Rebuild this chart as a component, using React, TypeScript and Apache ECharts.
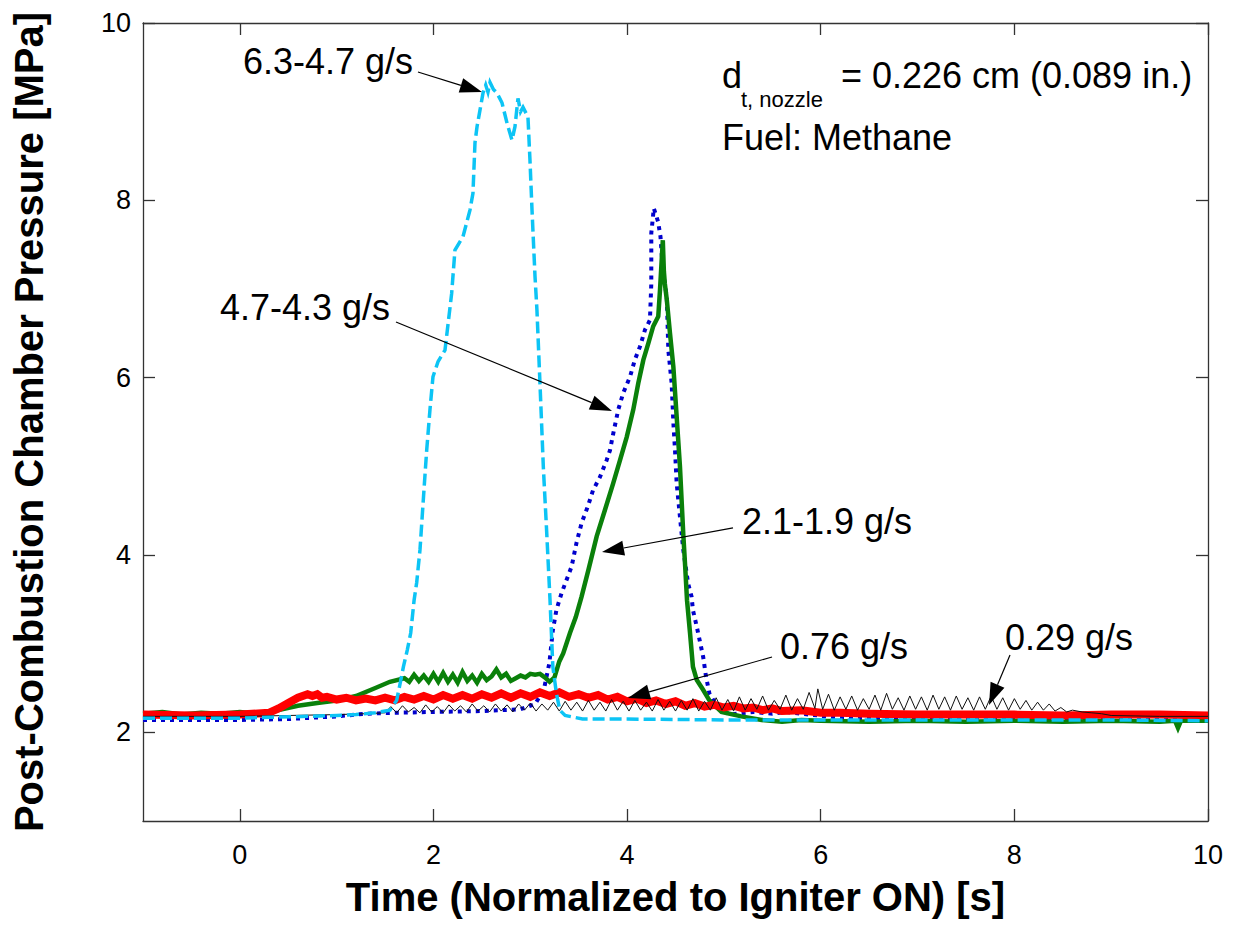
import React, { useEffect, useRef } from "react";
import * as echarts from "echarts";

const FONT = '"Liberation Sans", Arial, Helvetica, sans-serif';

const xTicks = [0, 2, 4, 6, 8, 10];
const yTicks = [2, 4, 6, 8, 10];

const xTitle = "Time (Normalized to Igniter ON) [s]";
const yTitle = "Post-Combustion Chamber Pressure [MPa]";

// 6.3-4.7 g/s (cyan, dashed)
const flow63: number[][] = [
  [-1, 2.16], [-0.5, 2.16], [0, 2.16], [0.3, 2.17], [0.7, 2.18], [1.0, 2.19], [1.2, 2.2], [1.4, 2.22],
  [1.55, 2.25], [1.62, 2.36], [1.65, 2.52], [1.69, 2.74], [1.73, 2.93], [1.765, 3.12], [1.8, 3.49],
  [1.827, 3.69], [1.861, 4.06], [1.895, 4.62], [1.93, 5.18], [1.964, 5.64], [1.995, 6.01], [2.047, 6.18],
  [2.119, 6.31], [2.188, 6.95], [2.222, 7.44], [2.305, 7.59], [2.377, 7.89], [2.408, 8.08], [2.429, 8.65],
  [2.45, 8.83], [2.481, 9.02], [2.512, 9.21], [2.54, 9.3], [2.563, 9.22], [2.584, 9.33], [2.62, 9.25],
  [2.656, 9.21], [2.708, 9.1], [2.76, 8.87], [2.811, 8.68], [2.842, 8.83], [2.873, 9.15], [2.9, 9.0],
  [2.925, 9.05], [2.976, 8.94], [2.997, 8.45], [3.018, 7.89], [3.049, 7.14], [3.069, 6.76], [3.1, 5.94],
  [3.135, 4.99], [3.17, 4.25], [3.204, 3.49], [3.233, 2.74], [3.27, 2.44], [3.305, 2.25], [3.36, 2.19],
  [3.54, 2.15], [4, 2.15], [5, 2.14], [6, 2.14], [7, 2.14], [8, 2.14], [9, 2.14], [10, 2.13],
];

// 4.7-4.3 g/s (blue, dotted)
const flow47: number[][] = [
  [-1, 2.14], [-0.5, 2.14], [0, 2.14], [0.5, 2.15], [1.0, 2.18], [1.3, 2.21], [1.6, 2.22], [2.0, 2.23],
  [2.5, 2.24], [2.9, 2.26], [3.05, 2.32], [3.14, 2.48], [3.197, 2.78], [3.233, 3.15], [3.27, 3.38],
  [3.323, 3.57], [3.427, 3.87], [3.478, 4.14], [3.53, 4.36], [3.595, 4.55], [3.648, 4.73], [3.72, 4.88],
  [3.789, 5.07], [3.823, 5.18], [3.857, 5.37], [3.909, 5.64], [3.961, 5.83], [4.03, 6.01], [4.08, 6.2],
  [4.133, 6.35], [4.185, 6.54], [4.236, 6.65], [4.25, 7.06], [4.25, 7.63], [4.276, 7.91], [4.32, 7.76],
  [4.345, 7.59], [4.369, 7.21], [4.39, 7.06], [4.41, 6.91], [4.426, 6.31], [4.46, 5.94], [4.478, 5.49],
  [4.495, 5.18], [4.512, 4.81], [4.546, 4.43], [4.58, 4.06], [4.63, 3.68], [4.666, 3.53], [4.68, 3.38],
  [4.72, 3.19], [4.757, 3.0], [4.786, 2.85], [4.815, 2.63], [4.85, 2.44], [4.93, 2.29], [5.06, 2.2],
  [5.3, 2.23], [5.5, 2.21], [5.64, 2.23], [5.89, 2.2], [6.23, 2.16], [7, 2.15], [8, 2.15], [9, 2.15], [10, 2.15],
];

// 2.1-1.9 g/s (green, solid)
const flow21: number[][] = [
  [-1, 2.21], [-0.8, 2.23], [-0.6, 2.2], [-0.4, 2.22], [-0.2, 2.21], [0, 2.23], [0.2, 2.21], [0.4, 2.25],
  [0.6, 2.3], [0.8, 2.33], [1.0, 2.36], [1.2, 2.41], [1.4, 2.5], [1.55, 2.57], [1.7, 2.61],
  [1.75, 2.57], [1.8, 2.65], [1.85, 2.58], [1.9, 2.64], [1.95, 2.57], [2.0, 2.66], [2.05, 2.57],
  [2.1, 2.67], [2.15, 2.57], [2.2, 2.65], [2.25, 2.56], [2.3, 2.68], [2.35, 2.58], [2.4, 2.64],
  [2.45, 2.56], [2.5, 2.66], [2.55, 2.59], [2.6, 2.63], [2.65, 2.71], [2.7, 2.62], [2.75, 2.66],
  [2.8, 2.58], [2.85, 2.61], [2.9, 2.64], [2.95, 2.62], [3.0, 2.66], [3.05, 2.65], [3.1, 2.66],
  [3.15, 2.62], [3.2, 2.57], [3.25, 2.62], [3.3, 2.8], [3.34, 2.89], [3.41, 3.12], [3.47, 3.3],
  [3.53, 3.53], [3.6, 3.83], [3.686, 4.21], [3.772, 4.51], [3.857, 4.81], [3.927, 5.07], [3.996, 5.33],
  [4.064, 5.64], [4.116, 5.94], [4.168, 6.2], [4.22, 6.39], [4.27, 6.58], [4.322, 6.69], [4.34, 6.99],
  [4.369, 7.55], [4.38, 7.2], [4.39, 7.06], [4.41, 6.88], [4.443, 6.5], [4.478, 6.12], [4.512, 5.56],
  [4.546, 5.0], [4.58, 4.24], [4.6, 3.87], [4.619, 3.49], [4.65, 3.12], [4.68, 2.74], [4.72, 2.59],
  [4.785, 2.48], [4.85, 2.36], [4.975, 2.23], [5.18, 2.18], [5.39, 2.14], [5.6, 2.12], [5.8, 2.14],
  [6, 2.13], [6.5, 2.12], [7, 2.13], [7.5, 2.12], [8, 2.13], [8.5, 2.12], [9, 2.13], [9.5, 2.12],
  [9.66, 2.13], [9.69, 2.05], [9.72, 2.13], [10, 2.13],
];

// 0.76 g/s (red, solid)
const flow076: number[][] = [
  [-1, 2.2], [-0.5, 2.19], [0, 2.2], [0.3, 2.22], [0.4, 2.27], [0.5, 2.33], [0.6, 2.39], [0.7, 2.43],
  [0.75, 2.41], [0.8, 2.43], [0.85, 2.39], [0.9, 2.4], [1.0, 2.37], [1.1, 2.39], [1.2, 2.36], [1.3, 2.38],
  [1.4, 2.36], [1.5, 2.39], [1.6, 2.36], [1.7, 2.4], [1.8, 2.37], [1.9, 2.41], [2.0, 2.37], [2.1, 2.42],
  [2.2, 2.38], [2.3, 2.42], [2.4, 2.38], [2.5, 2.43], [2.6, 2.39], [2.7, 2.44], [2.8, 2.39], [2.9, 2.44],
  [3.0, 2.4], [3.1, 2.45], [3.2, 2.41], [3.3, 2.45], [3.4, 2.4], [3.5, 2.43], [3.6, 2.39], [3.7, 2.42],
  [3.8, 2.37], [3.9, 2.4], [4.0, 2.35], [4.1, 2.38], [4.2, 2.33], [4.3, 2.36], [4.4, 2.32], [4.5, 2.35],
  [4.6, 2.3], [4.7, 2.33], [4.8, 2.29], [4.9, 2.31], [5.0, 2.28], [5.1, 2.3], [5.2, 2.27], [5.3, 2.28],
  [5.4, 2.25], [5.5, 2.27], [5.6, 2.24], [5.8, 2.25], [6.0, 2.22], [6.2, 2.22], [6.5, 2.21], [7, 2.2],
  [7.5, 2.2], [8, 2.2], [8.5, 2.19], [9, 2.2], [9.5, 2.2], [10, 2.19],
];

// 0.29 g/s (black, thin)
const flow029: number[][] = [
  [-1, 2.18], [0, 2.18], [0.5, 2.19], [1.0, 2.2], [1.3, 2.21], [1.5, 2.22],
  [1.56, 2.29], [1.62, 2.22], [1.68, 2.3], [1.74, 2.23], [1.8, 2.28], [1.86, 2.22], [1.92, 2.31],
  [1.98, 2.23], [2.04, 2.29], [2.1, 2.22], [2.16, 2.31], [2.22, 2.24], [2.28, 2.3], [2.34, 2.23],
  [2.4, 2.32], [2.46, 2.24], [2.52, 2.3], [2.58, 2.23], [2.64, 2.32], [2.7, 2.24], [2.76, 2.31],
  [2.82, 2.23], [2.88, 2.32], [2.94, 2.25], [3.0, 2.33], [3.06, 2.24], [3.12, 2.32], [3.18, 2.25],
  [3.24, 2.34], [3.3, 2.24], [3.36, 2.35], [3.42, 2.25], [3.48, 2.34], [3.54, 2.24], [3.6, 2.36],
  [3.66, 2.25], [3.72, 2.34], [3.78, 2.24], [3.84, 2.37], [3.9, 2.25], [3.96, 2.35], [4.02, 2.24],
  [4.08, 2.36], [4.14, 2.25], [4.2, 2.34], [4.26, 2.24], [4.32, 2.37], [4.38, 2.25], [4.44, 2.35],
  [4.5, 2.24], [4.56, 2.36], [4.62, 2.25], [4.68, 2.38], [4.74, 2.24], [4.8, 2.35], [4.86, 2.25],
  [4.92, 2.39], [4.98, 2.25], [5.04, 2.37], [5.1, 2.24], [5.16, 2.4], [5.22, 2.25], [5.28, 2.38],
  [5.34, 2.26], [5.4, 2.41], [5.46, 2.25], [5.52, 2.36], [5.58, 2.26], [5.64, 2.42], [5.7, 2.25],
  [5.76, 2.38], [5.82, 2.26], [5.88, 2.45], [5.94, 2.27], [5.97, 2.49], [6.02, 2.26], [6.08, 2.43],
  [6.14, 2.25], [6.2, 2.4], [6.26, 2.26], [6.32, 2.41], [6.38, 2.25], [6.44, 2.38], [6.5, 2.26],
  [6.56, 2.42], [6.62, 2.25], [6.68, 2.44], [6.74, 2.26], [6.8, 2.39], [6.86, 2.25], [6.92, 2.41],
  [6.98, 2.26], [7.04, 2.4], [7.1, 2.25], [7.16, 2.42], [7.22, 2.26], [7.28, 2.4], [7.34, 2.25],
  [7.4, 2.41], [7.46, 2.26], [7.52, 2.39], [7.58, 2.25], [7.64, 2.4], [7.7, 2.26], [7.76, 2.41],
  [7.82, 2.26], [7.88, 2.39], [7.94, 2.25], [8.0, 2.38], [8.06, 2.26], [8.12, 2.36], [8.18, 2.25],
  [8.24, 2.34], [8.3, 2.25], [8.36, 2.32], [8.42, 2.24], [8.48, 2.28], [8.54, 2.23], [8.6, 2.25],
  [8.7, 2.23], [8.8, 2.22], [8.9, 2.21], [9.0, 2.19], [9.5, 2.18], [10, 2.18],
];

// Annotations: label text, label anchor (left, middle) and arrow [from, to] in data units
const labelTexts = ["6.3-4.7 g/s", "4.7-4.3 g/s", "2.1-1.9 g/s", "0.76 g/s", "0.29 g/s"];
const labelAnchors: number[][] = [[0.033, 9.566], [-0.205, 6.786], [5.187, 4.378], [5.579, 2.963], [7.903, 3.064]];
const arrowFrom: number[][] = [[1.84, 9.447], [1.613, 6.628], [5.094, 4.305], [5.497, 2.85], [7.955, 2.872]];
const arrowTo: number[][] = [[2.501, 9.222], [3.844, 5.624], [3.741, 4.034], [4.009, 2.388], [7.738, 2.308]];

const noteMain = "d";
const noteSub = "t, nozzle";
const noteRest = "= 0.226 cm (0.089 in.)";
const noteFuel = "Fuel: Methane";
const noteAnchors: number[][] = [[4.98, 9.408], [5.176, 9.132], [6.209, 9.408], [4.98, 8.714]];

export default function App() {
  const ref = useRef<HTMLDivElement>(null);

  useEffect(() => {
    document.body.style.margin = "0";
    const chart = echarts.init(ref.current as HTMLDivElement, null, { renderer: "svg" });
    const axisColor = "#333";
    const mkX = (pos: string, main: boolean) => ({
      type: "value",
      min: -1,
      max: 10,
      position: pos,
      name: main ? xTitle : "",
      nameLocation: "middle",
      nameGap: 56,
      nameTextStyle: { fontSize: 40, fontWeight: "bold", color: "#000", fontFamily: FONT },
      axisLine: { onZero: false, lineStyle: { color: axisColor, width: 1.3 } },
      axisTick: { inside: true, length: 12, customValues: xTicks, lineStyle: { color: axisColor, width: 1.3 } },
      axisLabel: { show: main, customValues: xTicks, fontSize: 27, color: "#000", fontFamily: FONT, margin: 20 },
      splitLine: { show: false },
    });
    const mkY = (pos: string, main: boolean) => ({
      type: "value",
      min: 1,
      max: 10,
      position: pos,
      name: main ? yTitle : "",
      nameLocation: "middle",
      nameGap: 94,
      nameRotate: 90,
      nameTextStyle: { fontSize: 40, fontWeight: "bold", color: "#000", fontFamily: FONT },
      axisLine: { onZero: false, lineStyle: { color: axisColor, width: 1.3 } },
      axisTick: { inside: true, length: 12, customValues: yTicks, lineStyle: { color: axisColor, width: 1.3 } },
      axisLabel: { show: main, customValues: yTicks, fontSize: 27, color: "#000", fontFamily: FONT, margin: 12 },
      splitLine: { show: false },
    });
    const line = (data: number[][], color: string, width: number, type: any, z: number) => ({
      type: "line",
      data,
      showSymbol: false,
      symbol: "none",
      z,
      lineStyle: { color, width, type, cap: "butt", join: "miter" },
    });
    chart.setOption({
      animation: false,
      backgroundColor: "#fff",
      textStyle: { fontFamily: FONT },
      grid: { left: 143, right: 28, top: 23, bottom: 105, containLabel: false },
      xAxis: [mkX("bottom", true), mkX("top", false)],
      yAxis: [mkY("left", true), mkY("right", false)],
      series: [
        line(flow47, "#0000CD", 4, [4, 5], 2),
        line(flow21, "#0A800A", 4.5, "solid", 3),
        line(flow076, "#FF0000", 8, "solid", 4),
        line(flow029, "#111111", 1, "solid", 5),
        line(flow63, "#0CC4F5", 3.5, [12, 5], 6),
      ],
    });

    const toPx = (p: number[]) => chart.convertToPixel({ seriesIndex: 0 }, p) as number[];
    const graphics: any[] = [];
    const textEl = (text: string, p: number[], size: number) => {
      const q = toPx(p);
      return {
        type: "text",
        x: q[0],
        y: q[1],
        z: 100,
        style: { text, fontSize: size, fontFamily: FONT, fill: "#000", align: "left", verticalAlign: "middle" },
      };
    };
    labelTexts.forEach((t, i) => {
      graphics.push(textEl(t, labelAnchors[i], 36));
      const a = toPx(arrowFrom[i]);
      const b = toPx(arrowTo[i]);
      const dx = b[0] - a[0];
      const dy = b[1] - a[1];
      const len = Math.sqrt(dx * dx + dy * dy);
      const ux = dx / len;
      const uy = dy / len;
      const L = 22;
      const W = 7.5;
      const bx = b[0] - ux * L;
      const by = b[1] - uy * L;
      graphics.push({
        type: "line",
        z: 100,
        shape: { x1: a[0], y1: a[1], x2: bx, y2: by },
        style: { stroke: "#000", lineWidth: 1.2 },
      });
      graphics.push({
        type: "polygon",
        z: 100,
        shape: { points: [[b[0], b[1]], [bx - uy * W, by + ux * W], [bx + uy * W, by - ux * W]] },
        style: { fill: "#000", stroke: "none" },
      });
    });
    graphics.push(textEl(noteMain, noteAnchors[0], 36));
    graphics.push(textEl(noteSub, noteAnchors[1], 22));
    graphics.push(textEl(noteRest, noteAnchors[2], 36));
    graphics.push(textEl(noteFuel, noteAnchors[3], 36));
    chart.setOption({ graphic: graphics });

    return () => chart.dispose();
  }, []);

  return (
    <div
      ref={ref}
      style={{ position: "absolute", left: 0, top: 0, width: 1236, height: 926, background: "#fff" }}
    />
  );
}
